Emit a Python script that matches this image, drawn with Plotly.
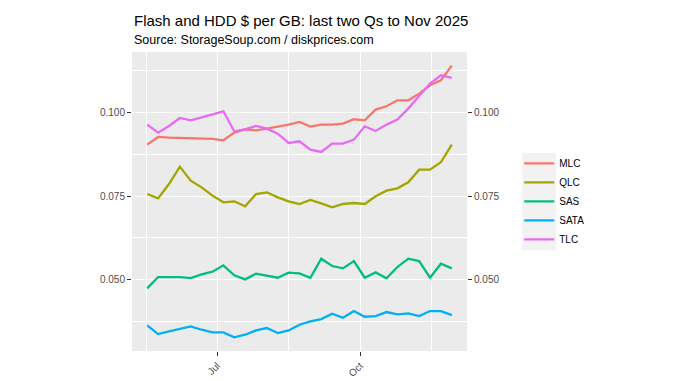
import pandas as pd
import plotly.graph_objects as go

# ---- data (weekly) ----
dates = pd.date_range("2025-05-17", periods=29, freq="7D")

mlc = [0.0904, 0.0927, 0.0925, 0.0924, 0.0922, 0.0921, 0.0921, 0.0917, 0.0940, 0.0950,
       0.0947, 0.0952, 0.0957, 0.0964, 0.0972, 0.0958, 0.0964, 0.0964, 0.0967, 0.0980,
       0.0977, 0.1009, 0.1019, 0.1037, 0.1037, 0.1057, 0.1082, 0.1097, 0.1141]
qlc = [0.0756, 0.0743, 0.0786, 0.0838, 0.0796, 0.0776, 0.0751, 0.0731, 0.0734, 0.0719,
       0.0756, 0.0761, 0.0746, 0.0734, 0.0726, 0.0738, 0.0728, 0.0716, 0.0726, 0.0729,
       0.0726, 0.0749, 0.0766, 0.0773, 0.0791, 0.0829, 0.0829, 0.0851, 0.0904]
sas = [0.0473, 0.0507, 0.0507, 0.0507, 0.0504, 0.0515, 0.0523, 0.0542, 0.0512, 0.0500,
       0.0517, 0.0510, 0.0505, 0.0520, 0.0518, 0.0505, 0.0562, 0.0540, 0.0533, 0.0555,
       0.0505, 0.0521, 0.0503, 0.0537, 0.0562, 0.0555, 0.0505, 0.0547, 0.0533]
sata = [0.0362, 0.0336, 0.0344, 0.0352, 0.0359, 0.0349, 0.0341, 0.0341, 0.0326, 0.0334,
        0.0347, 0.0354, 0.0339, 0.0347, 0.0364, 0.0374, 0.0381, 0.0397, 0.0385, 0.0405,
        0.0388, 0.0390, 0.0402, 0.0395, 0.0398, 0.0390, 0.0405, 0.0405, 0.0393]
tlc = [0.0964, 0.0940, 0.0960, 0.0984, 0.0977, 0.0987, 0.0995, 0.1004, 0.0944, 0.0950,
       0.0960, 0.0952, 0.0937, 0.0909, 0.0914, 0.0889, 0.0882, 0.0907, 0.0907, 0.0919,
       0.0959, 0.0945, 0.0964, 0.0979, 0.1012, 0.1050, 0.1087, 0.1112, 0.1104]

series_names = ["MLC", "QLC", "SAS", "SATA", "TLC"]
series_values = [mlc, qlc, sas, sata, tlc]
colors = ["#F8766D", "#A3A500", "#00BF7D", "#00B0F6", "#E76BF3"]

y_ticks = [0.050, 0.075, 0.100]
y_tick_labels = ["0.050", "0.075", "0.100"]
y_minor = [0.0375, 0.0625, 0.0875, 0.1125]
x_ticks = ["2025-07-01", "2025-10-01"]
x_tick_labels = ["Jul", "Oct"]
x_minor = ["2025-05-16 12:00", "2025-08-16", "2025-11-16"]

title = "Flash and HDD $ per GB: last two Qs to Nov 2025"
subtitle = "Source: StorageSoup.com / diskprices.com"

# ---- figure ----
FONT = "Liberation Sans, Arial, sans-serif"
fig = go.Figure()
for name, vals, col in zip(series_names, series_values, colors):
    fig.add_trace(go.Scatter(x=dates, y=vals, mode="lines", name=name,
                             line=dict(color=col, width=2.3)))
# mirror trace for the right-hand axis (not shown in legend)
fig.add_trace(go.Scatter(x=dates, y=mlc, yaxis="y2", mode="lines",
                         line=dict(width=0), opacity=0, showlegend=False,
                         hoverinfo="skip"))

dmin, dmax = dates[0], dates[-1]
span = dmax - dmin
xr = [dmin - span * 0.05, dmax + span * 0.05]
allv = [v for s in series_values for v in s]
vmin, vmax = min(allv), max(allv)
pad = (vmax - vmin) * 0.05
yr = [vmin - pad, vmax + pad]

tickfont = dict(family=FONT, size=10, color="#4D4D4D")
fig.update_layout(
    width=670, height=373,
    margin=dict(l=124, r=211, t=44, b=30, autoexpand=False),
    paper_bgcolor="white", plot_bgcolor="#EBEBEB",
    font=dict(family=FONT, color="black"),
    showlegend=True,
    legend=dict(x=1.156, y=0.676, xanchor="left", yanchor="top",
                font=dict(family=FONT, size=10, color="black"),
                bgcolor="rgba(0,0,0,0)", borderwidth=0),
    xaxis=dict(type="date", range=xr, tickvals=x_ticks, ticktext=x_tick_labels,
               tickangle=-45, ticks="outside", ticklen=4, tickcolor="#333333",
               tickfont=tickfont, showgrid=True, gridcolor="white", gridwidth=1.1,
               zeroline=False, showline=False,
               minor=dict(tickvals=x_minor, showgrid=True, gridcolor="white",
                          gridwidth=0.55, ticklen=0)),
    yaxis=dict(range=yr, tickvals=y_ticks, ticktext=y_tick_labels,
               ticks="outside", ticklen=4, tickcolor="#333333", tickfont=tickfont,
               showgrid=True, gridcolor="white", gridwidth=1.1, zeroline=False,
               showline=False,
               minor=dict(tickvals=y_minor, showgrid=True, gridcolor="white",
                          gridwidth=0.55, ticklen=0)),
    yaxis2=dict(range=yr, overlaying="y", side="right", tickvals=y_ticks,
                ticktext=y_tick_labels, ticks="outside", ticklen=4,
                tickcolor="#333333", tickfont=tickfont, showgrid=False,
                zeroline=False, showline=False),
    annotations=[
        dict(text=title, xref="paper", yref="paper", x=0, y=1.107,
             xanchor="left", yanchor="middle", showarrow=False,
             font=dict(family=FONT, size=15, color="black")),
        dict(text=subtitle, xref="paper", yref="paper", x=0, y=1.0385,
             xanchor="left", yanchor="middle", showarrow=False,
             font=dict(family=FONT, size=12.5, color="black")),
    ],
    shapes=[dict(type="rect", xref="paper", yref="paper",
                 x0=1.165, x1=1.266, y0=0.337, y1=0.662,
                 fillcolor="#F2F2F2", line=dict(width=0), layer="below")],
)

fig.write_html("out.html")
